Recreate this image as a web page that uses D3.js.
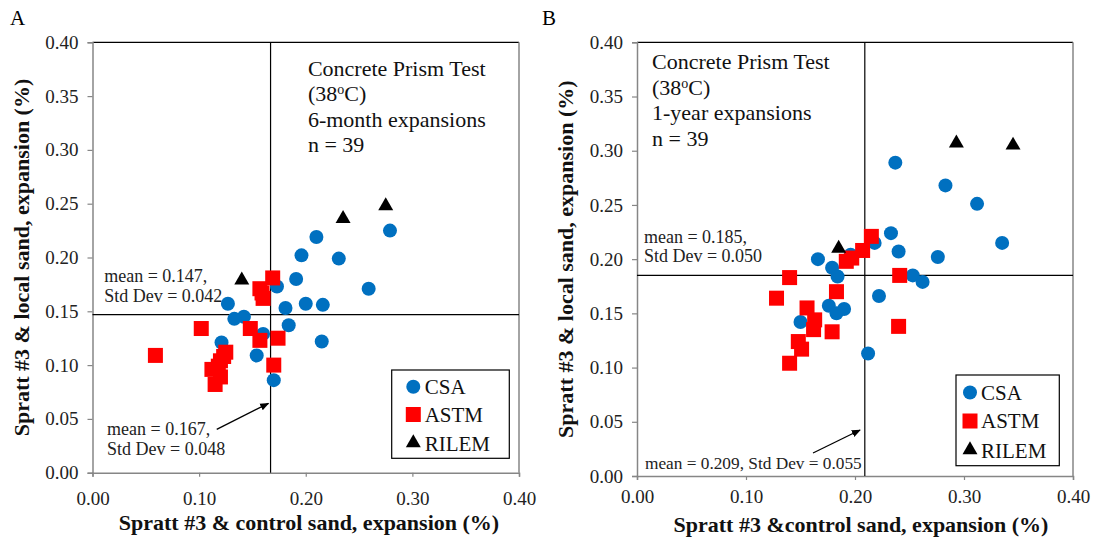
<!DOCTYPE html>
<html>
<head>
<meta charset="utf-8">
<script src="https://cdn.jsdelivr.net/npm/d3@7"></script>
<style>
  body { margin: 0; background: #fff; }
  text { font-family: "Liberation Serif", "DejaVu Serif", serif; }
</style>
</head>
<body>
<svg id="chart" width="1101" height="542"></svg>
<script>
// Panel A - 6-month expansions, [control sand, local sand]
const csaA = [
  [0.210, 0.219], [0.279, 0.225], [0.196, 0.202], [0.231, 0.199], [0.191, 0.180],
  [0.259, 0.171], [0.173, 0.173], [0.127, 0.157], [0.181, 0.153], [0.200, 0.157],
  [0.216, 0.156], [0.142, 0.145], [0.133, 0.143], [0.184, 0.137], [0.160, 0.129],
  [0.121, 0.121], [0.215, 0.122], [0.154, 0.109], [0.170, 0.086]
];
const astmA = [
  [0.169, 0.181], [0.157, 0.171], [0.159, 0.167], [0.160, 0.162], [0.102, 0.134],
  [0.148, 0.134], [0.157, 0.123], [0.174, 0.125], [0.059, 0.109], [0.125, 0.112],
  [0.120, 0.104], [0.112, 0.096], [0.118, 0.099], [0.120, 0.089], [0.115, 0.082],
  [0.170, 0.100], [0.123, 0.108]
];
const rilemA = [[0.140, 0.179], [0.235, 0.236], [0.275, 0.248]];
const meanA = { x: 0.167, y: 0.147 };

// Panel B - 1-year expansions
const csaB = [
  [0.237, 0.289], [0.283, 0.268], [0.312, 0.251], [0.335, 0.215], [0.233, 0.224],
  [0.218, 0.215], [0.240, 0.207], [0.276, 0.202], [0.196, 0.204], [0.166, 0.200],
  [0.179, 0.192], [0.184, 0.184], [0.253, 0.185], [0.262, 0.179], [0.222, 0.166],
  [0.176, 0.157], [0.190, 0.154], [0.183, 0.150], [0.150, 0.142], [0.212, 0.113]
];
const astmB = [
  [0.215, 0.221], [0.207, 0.208], [0.197, 0.201], [0.192, 0.198], [0.241, 0.185],
  [0.140, 0.183], [0.128, 0.164], [0.183, 0.170], [0.156, 0.155], [0.163, 0.144],
  [0.162, 0.135], [0.179, 0.133], [0.148, 0.124], [0.151, 0.117], [0.140, 0.104],
  [0.240, 0.138]
];
const rilemB = [[0.185, 0.210], [0.293, 0.307], [0.345, 0.305]];
const meanB = { x: 0.209, y: 0.185 };

const xTickLabels = [0, 0.10, 0.20, 0.30, 0.40];
const yTickLabels = [0, 0.05, 0.10, 0.15, 0.20, 0.25, 0.30, 0.35, 0.40];
const seriesNames = ["CSA", "ASTM", "RILEM"];
const seriesColors = ["#0070C0", "#FF0000", "#000000"];

const svg = d3.select("#chart");
const axisGray = "#868686";

function drawMarker(sel, type, color) {
    if (type === 0) {
        sel.append("circle").attr("r", 7).attr("fill", color);
    } else if (type === 1) {
        sel.append("rect").attr("x", -7.5).attr("y", -7.5)
            .attr("width", 15).attr("height", 15).attr("fill", color);
    } else {
        sel.append("path").attr("d", d3.symbol(d3.symbolTriangle).size(97)).attr("fill", color);
    }
}

function drawPanel(p) {
    const x = d3.scaleLinear().domain([0, 0.4]).range([p.left, p.right]);
    const y = d3.scaleLinear().domain([0, 0.4]).range([p.bottom, p.top]);
    const g = svg.append("g");

    // panel letter
    g.append("text").attr("x", p.letterX).attr("y", 25)
        .style("font-size", "21px").text(p.letter);

    // frame: top black, right gray
    g.append("line").attr("x1", p.left).attr("x2", p.right)
        .attr("y1", p.top).attr("y2", p.top).attr("stroke", "#000").attr("stroke-width", 1.2);
    g.append("line").attr("x1", p.right).attr("x2", p.right)
        .attr("y1", p.top).attr("y2", p.bottom).attr("stroke", axisGray).attr("stroke-width", 1.5);

    // y axis (minor ticks every 0.01, labels every 0.05)
    const yMinor = d3.range(0, 41).map(i => i / 100);
    const yAx = g.append("g").attr("transform", `translate(${p.left},0)`);
    yAx.call(d3.axisLeft(y).tickValues(yMinor).tickSize(5).tickFormat(""));
    yAx.call(d3.axisLeft(y).tickValues(yTickLabels).tickSize(5).tickPadding(9).tickFormat(d3.format(".2f")));

    // x axis (minor ticks every 0.02, labels every 0.10)
    const xMinor = d3.range(0, 21).map(i => i / 50);
    const xAx = g.append("g").attr("transform", `translate(0,${p.bottom})`);
    xAx.call(d3.axisBottom(x).tickValues(xMinor).tickSize(4).tickFormat(""));
    xAx.call(d3.axisBottom(x).tickValues(xTickLabels).tickSize(4).tickPadding(p.xPad).tickFormat(d3.format(".2f")));

    [yAx, xAx].forEach(a => {
        a.selectAll(".domain").attr("stroke", axisGray).attr("stroke-width", 1.5);
        a.selectAll(".tick line").attr("stroke", axisGray).attr("stroke-width", 1.2);
        a.selectAll("text").attr("fill", "#222").style("font-size", "19px")
            .style("font-family", "'Liberation Serif', serif");
    });

    // mean lines
    g.append("line").attr("x1", x(0)).attr("x2", x(0.4))
        .attr("y1", y(p.mean.y)).attr("y2", y(p.mean.y))
        .attr("stroke", "#000").attr("stroke-width", 1.2);
    g.append("line").attr("x1", x(p.mean.x)).attr("x2", x(p.mean.x))
        .attr("y1", y(0.4)).attr("y2", y(0))
        .attr("stroke", "#000").attr("stroke-width", 1.2);

    // points
    [p.csa, p.astm, p.rilem].forEach((pts, k) => {
        g.append("g").selectAll("g")
            .data(pts)
            .enter()
            .append("g")
            .attr("transform", d => `translate(${x(d[0])},${y(d[1])})`)
            .each(function() { drawMarker(d3.select(this), k, seriesColors[k]); });
    });

    // test description
    const desc = g.append("text").style("font-size", "22px").attr("fill", "#111");
    const dx = x(p.desc.x), dy0 = y(p.desc.y);
    desc.append("tspan").attr("x", dx).attr("y", dy0).text("Concrete Prism Test");
    const l2 = desc.append("tspan").attr("x", dx).attr("y", dy0 + 25.5);
    l2.append("tspan").text("(38");
    l2.append("tspan").attr("dy", -7).style("font-size", "14px").text("o");
    l2.append("tspan").attr("dy", 7).text("C)");
    desc.append("tspan").attr("x", dx).attr("y", dy0 + 51).text(p.period);
    desc.append("tspan").attr("x", dx).attr("y", dy0 + 76.5).text("n = 39");

    // mean annotations
    p.notes.forEach(n => {
        const t = g.append("text").style("font-size", n.size + "px").attr("fill", "#222");
        n.lines.forEach((s, i) => {
            t.append("tspan").attr("x", x(n.x)).attr("y", y(n.y) + i * 19.5).text(s);
        });
    });

    // arrow to vertical mean line
    const mid = "arrow" + p.letter;
    g.append("defs").append("marker")
        .attr("id", mid).attr("viewBox", "0 0 10 10")
        .attr("refX", 9).attr("refY", 5)
        .attr("markerWidth", 7).attr("markerHeight", 7)
        .attr("orient", "auto")
        .append("path").attr("d", "M0,1 L10,5 L0,9 Z").attr("fill", "#000");
    g.append("line")
        .attr("x1", x(p.arrow[0])).attr("y1", y(p.arrow[1]))
        .attr("x2", x(p.arrow[2])).attr("y2", y(p.arrow[3]))
        .attr("stroke", "#000").attr("stroke-width", 1.3)
        .attr("marker-end", `url(#${mid})`);

    // legend
    const L = p.legend;
    const lg = g.append("g").attr("transform", `translate(${L.x},${L.y})`);
    lg.append("rect").attr("width", L.w).attr("height", L.h)
        .attr("fill", "#fff").attr("stroke", "#000").attr("stroke-width", 1.2);
    seriesNames.forEach((name, k) => {
        const row = lg.append("g").attr("transform", `translate(0,${L.rowY[k]})`);
        const m = row.append("g").attr("transform", `translate(${L.symX},${k === 2 ? -1 : 0})`);
        drawMarker(m, k, seriesColors[k]);
        row.append("text").attr("x", L.textX).attr("y", 7)
            .style("font-size", "21px").attr("fill", "#111").text(name);
    });

    // axis titles
    g.append("text")
        .attr("transform", `translate(${p.yTitleX},${(p.top + p.bottom) / 2}) rotate(-90)`)
        .attr("text-anchor", "middle")
        .style("font-size", "22px").style("font-weight", "bold").attr("fill", "#111")
        .text(p.yTitle);
    g.append("text")
        .attr("x", p.xTitleX).attr("y", p.xTitleY)
        .attr("text-anchor", "middle")
        .style("font-size", "22px").style("font-weight", "bold").attr("fill", "#111")
        .text(p.xTitle);
}

drawPanel({
    letter: "A", letterX: 10,
    left: 92.5, right: 519, top: 42.3, bottom: 472.7, xPad: 15,
    csa: csaA, astm: astmA, rilem: rilemA, mean: meanA,
    desc: { x: 0.202, y: 0.3687 }, period: "6-month expansions",
    notes: [
        { x: 0.011, y: 0.177, size: 18, lines: ["mean = 0.147,", "Std Dev = 0.042"] },
        { x: 0.0136, y: 0.035, size: 18, lines: ["mean = 0.167,", "Std Dev = 0.048"] }
    ],
    arrow: [0.1165, 0.0403, 0.165, 0.0645],
    legend: { x: 391.7, y: 370, w: 117.6, h: 88.3, symX: 21.6, textX: 33, rowY: [16.7, 44.5, 74] },
    yTitle: "Spratt #3 & local sand, expansion (%)", yTitleX: 29,
    xTitle: "Spratt #3 & control sand, expansion (%)", xTitleX: 309, xTitleY: 530
});

drawPanel({
    letter: "B", letterX: 542,
    left: 637, right: 1073, top: 42.3, bottom: 476, xPad: 10,
    csa: csaB, astm: astmB, rilem: rilemB, mean: meanB,
    desc: { x: 0.0138, y: 0.375 }, period: "1-year expansions",
    notes: [
        { x: 0.0064, y: 0.215, size: 18, lines: ["mean = 0.185,", "Std Dev = 0.050"] },
        { x: 0.0073, y: 0.0062, size: 17.3, lines: ["mean = 0.209, Std Dev = 0.055"] }
    ],
    arrow: [0.1615, 0.0212, 0.2046, 0.0424],
    legend: { x: 956, y: 375, w: 103.3, h: 90.7, symX: 14, textX: 25, rowY: [17.5, 46, 76] },
    yTitle: "Spratt #3 & local sand, expansion (%)", yTitleX: 573,
    xTitle: "Spratt #3 &control sand, expansion (%)", xTitleX: 861, xTitleY: 532
});
</script>
</body>
</html>
